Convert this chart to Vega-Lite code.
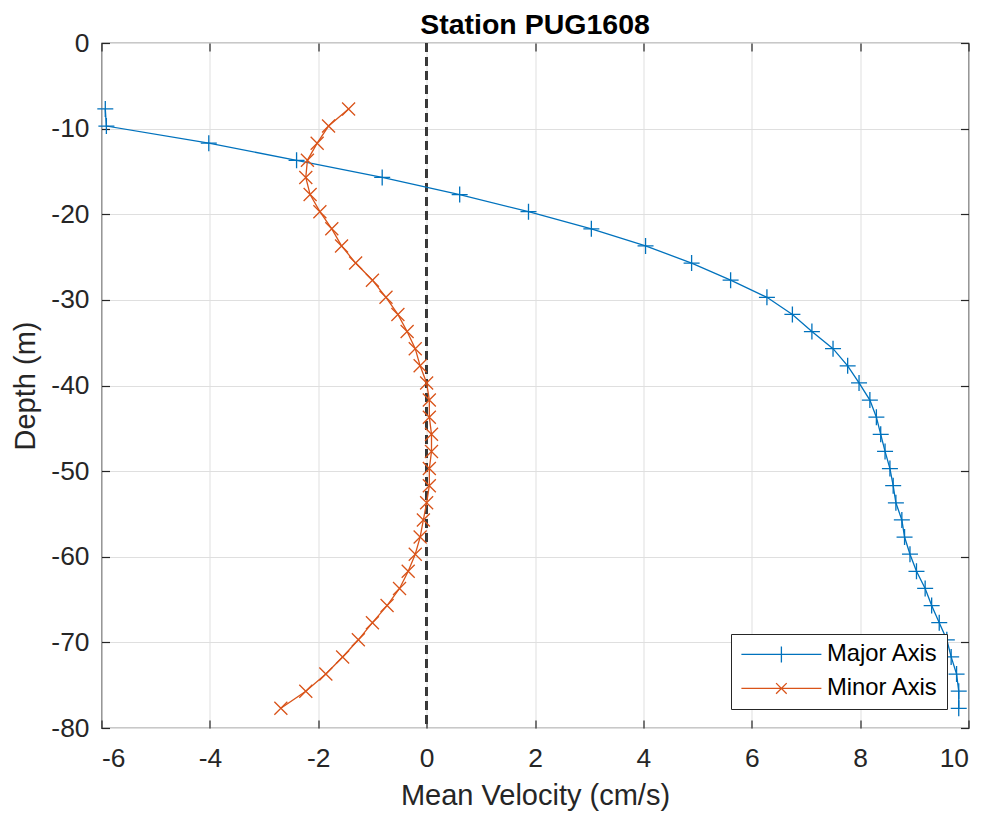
{
  "$schema": "https://vega.github.io/schema/vega-lite/v6.json",
  "width": 867,
  "height": 685,
  "autosize": {"type": "none"},
  "padding": {"left": 101.5, "top": 43, "right": 21.5, "bottom": 89},
  "background": "white",
  "title": {"text": "Station PUG1608", "font": "Liberation Sans", "fontSize": 28.5, "fontWeight": "bold", "color": "#000000", "anchor": "middle", "offset": -9},
  "config": {
    "view": {"stroke": "#262626", "strokeWidth": 1.2},
    "axis": {"labelFont": "Liberation Sans", "titleFont": "Liberation Sans", "labelColor": "#262626", "titleColor": "#262626", "titleFontWeight": "normal", "domain": false, "tickColor": "#262626", "tickWidth": 1.2, "gridColor": "#dfdfdf", "gridWidth": 1, "labelExpr": "toString(datum.value)"}
  },
  "data": {"values": [
    {"depth": -7.7, "v": -5.93, "series": "Major Axis"},
    {"depth": -9.7, "v": -5.91, "series": "Major Axis"},
    {"depth": -11.7, "v": -4.02, "series": "Major Axis"},
    {"depth": -13.7, "v": -2.40, "series": "Major Axis"},
    {"depth": -15.7, "v": -0.82, "series": "Major Axis"},
    {"depth": -17.7, "v": 0.61, "series": "Major Axis"},
    {"depth": -19.7, "v": 1.88, "series": "Major Axis"},
    {"depth": -21.7, "v": 3.04, "series": "Major Axis"},
    {"depth": -23.7, "v": 4.04, "series": "Major Axis"},
    {"depth": -25.7, "v": 4.89, "series": "Major Axis"},
    {"depth": -27.7, "v": 5.61, "series": "Major Axis"},
    {"depth": -29.7, "v": 6.28, "series": "Major Axis"},
    {"depth": -31.7, "v": 6.75, "series": "Major Axis"},
    {"depth": -33.7, "v": 7.11, "series": "Major Axis"},
    {"depth": -35.7, "v": 7.50, "series": "Major Axis"},
    {"depth": -37.7, "v": 7.77, "series": "Major Axis"},
    {"depth": -39.7, "v": 7.98, "series": "Major Axis"},
    {"depth": -41.7, "v": 8.18, "series": "Major Axis"},
    {"depth": -43.7, "v": 8.30, "series": "Major Axis"},
    {"depth": -45.7, "v": 8.38, "series": "Major Axis"},
    {"depth": -47.7, "v": 8.46, "series": "Major Axis"},
    {"depth": -49.7, "v": 8.55, "series": "Major Axis"},
    {"depth": -51.7, "v": 8.61, "series": "Major Axis"},
    {"depth": -53.7, "v": 8.66, "series": "Major Axis"},
    {"depth": -55.7, "v": 8.77, "series": "Major Axis"},
    {"depth": -57.7, "v": 8.82, "series": "Major Axis"},
    {"depth": -59.7, "v": 8.92, "series": "Major Axis"},
    {"depth": -61.7, "v": 9.04, "series": "Major Axis"},
    {"depth": -63.7, "v": 9.20, "series": "Major Axis"},
    {"depth": -65.7, "v": 9.32, "series": "Major Axis"},
    {"depth": -67.7, "v": 9.46, "series": "Major Axis"},
    {"depth": -69.7, "v": 9.60, "series": "Major Axis"},
    {"depth": -71.7, "v": 9.68, "series": "Major Axis"},
    {"depth": -73.7, "v": 9.78, "series": "Major Axis"},
    {"depth": -75.7, "v": 9.82, "series": "Major Axis"},
    {"depth": -77.7, "v": 9.82, "series": "Major Axis"},
    {"depth": -7.7, "v": -1.44, "series": "Minor Axis"},
    {"depth": -9.7, "v": -1.81, "series": "Minor Axis"},
    {"depth": -11.7, "v": -2.02, "series": "Minor Axis"},
    {"depth": -13.7, "v": -2.20, "series": "Minor Axis"},
    {"depth": -15.7, "v": -2.23, "series": "Minor Axis"},
    {"depth": -17.7, "v": -2.15, "series": "Minor Axis"},
    {"depth": -19.7, "v": -1.97, "series": "Minor Axis"},
    {"depth": -21.7, "v": -1.75, "series": "Minor Axis"},
    {"depth": -23.7, "v": -1.57, "series": "Minor Axis"},
    {"depth": -25.7, "v": -1.31, "series": "Minor Axis"},
    {"depth": -27.7, "v": -1.00, "series": "Minor Axis"},
    {"depth": -29.7, "v": -0.75, "series": "Minor Axis"},
    {"depth": -31.7, "v": -0.53, "series": "Minor Axis"},
    {"depth": -33.7, "v": -0.36, "series": "Minor Axis"},
    {"depth": -35.7, "v": -0.21, "series": "Minor Axis"},
    {"depth": -37.7, "v": -0.12, "series": "Minor Axis"},
    {"depth": -39.7, "v": 0.00, "series": "Minor Axis"},
    {"depth": -41.7, "v": 0.05, "series": "Minor Axis"},
    {"depth": -43.7, "v": 0.05, "series": "Minor Axis"},
    {"depth": -45.7, "v": 0.09, "series": "Minor Axis"},
    {"depth": -47.7, "v": 0.09, "series": "Minor Axis"},
    {"depth": -49.7, "v": 0.05, "series": "Minor Axis"},
    {"depth": -51.7, "v": 0.05, "series": "Minor Axis"},
    {"depth": -53.7, "v": 0.00, "series": "Minor Axis"},
    {"depth": -55.7, "v": -0.06, "series": "Minor Axis"},
    {"depth": -57.7, "v": -0.12, "series": "Minor Axis"},
    {"depth": -59.7, "v": -0.21, "series": "Minor Axis"},
    {"depth": -61.7, "v": -0.34, "series": "Minor Axis"},
    {"depth": -63.7, "v": -0.50, "series": "Minor Axis"},
    {"depth": -65.7, "v": -0.73, "series": "Minor Axis"},
    {"depth": -67.7, "v": -1.00, "series": "Minor Axis"},
    {"depth": -69.7, "v": -1.26, "series": "Minor Axis"},
    {"depth": -71.7, "v": -1.55, "series": "Minor Axis"},
    {"depth": -73.7, "v": -1.86, "series": "Minor Axis"},
    {"depth": -75.7, "v": -2.23, "series": "Minor Axis"},
    {"depth": -77.7, "v": -2.69, "series": "Minor Axis"}
  ]},
  "layer": [
    {
      "mark": {"type": "rule", "strokeDash": [9, 5], "stroke": "#3a3a3a", "strokeWidth": 1.3},
      "encoding": {
        "x": {"datum": 0, "type": "quantitative", "scale": {"domain": [-6, 10], "nice": false, "zero": false},
          "axis": {"orient": "bottom", "values": [-6, -4, -2, 0, 2, 4, 6, 8, 10], "title": "Mean Velocity (cm/s)", "labelFontSize": 26.4, "titleFontSize": 29, "tickSize": -8, "labelPadding": 25, "titlePadding": 10, "grid": true}}
      }
    },
    {
      "mark": {"type": "line", "strokeWidth": 1.3},
      "encoding": {
        "x": {"field": "v", "type": "quantitative", "scale": {"domain": [-6, 10], "nice": false, "zero": false},
          "axis": {"orient": "top", "values": [-6, -4, -2, 0, 2, 4, 6, 8, 10], "labels": false, "title": null, "tickSize": -8, "grid": false}},
        "y": {"field": "depth", "type": "quantitative", "scale": {"domain": [-80, 0], "nice": false, "zero": false},
          "axis": {"orient": "left", "values": [-80, -70, -60, -50, -40, -30, -20, -10, 0], "title": "Depth (m)", "labelFontSize": 26.4, "titleFontSize": 29, "tickSize": -8, "labelPadding": 20.5, "titlePadding": 10, "grid": true}},
        "order": {"field": "depth", "sort": "descending"},
        "color": {"field": "series", "type": "nominal",
          "scale": {"domain": ["Major Axis", "Minor Axis"], "range": ["#0072BD", "#D95319"]},
          "legend": {
            "title": null, "orient": "none", "legendX": 629.5, "legendY": 591,
            "labelFont": "Liberation Sans", "labelFontSize": 23.8, "labelColor": "#000000",
            "strokeColor": "#262626", "fillColor": "#ffffff", "padding": 8.5,
            "symbolSize": 400, "symbolOffset": 30, "labelOffset": 33.7, "rowPadding": 9, "symbolStrokeWidth": 1.3,
            "encode": {"symbols": {"update": {
              "shape": [
                {"test": "datum.value === 'Major Axis'", "value": "M-4,0H4M0,-0.8V0.8"},
                {"value": "M-4,0H4M-0.53,-0.53L0.53,0.53M-0.53,0.53L0.53,-0.53"}
              ],
              "fill": {"value": "transparent"}
            }}}
          }}
      }
    },
    {
      "transform": [{"filter": "datum.series === 'Major Axis'"}],
      "mark": {"type": "point", "shape": "M-1,0H1M0,-1V1", "size": 256, "filled": false, "strokeWidth": 1.3, "color": "#0072BD", "opacity": 1},
      "encoding": {
        "x": {"field": "v", "type": "quantitative", "axis": null},
        "y": {"field": "depth", "type": "quantitative",
          "axis": {"orient": "right", "values": [-80, -70, -60, -50, -40, -30, -20, -10, 0], "labels": false, "title": null, "tickSize": -8, "grid": false}}
      }
    },
    {
      "transform": [{"filter": "datum.series === 'Minor Axis'"}],
      "mark": {"type": "point", "shape": "M-1,-1L1,1M-1,1L1,-1", "size": 169, "filled": false, "strokeWidth": 1.3, "color": "#D95319", "opacity": 1},
      "encoding": {
        "x": {"field": "v", "type": "quantitative", "axis": null},
        "y": {"field": "depth", "type": "quantitative", "axis": null}
      }
    }
  ],
  "resolve": {"axis": {"x": "independent", "y": "independent"}}
}
